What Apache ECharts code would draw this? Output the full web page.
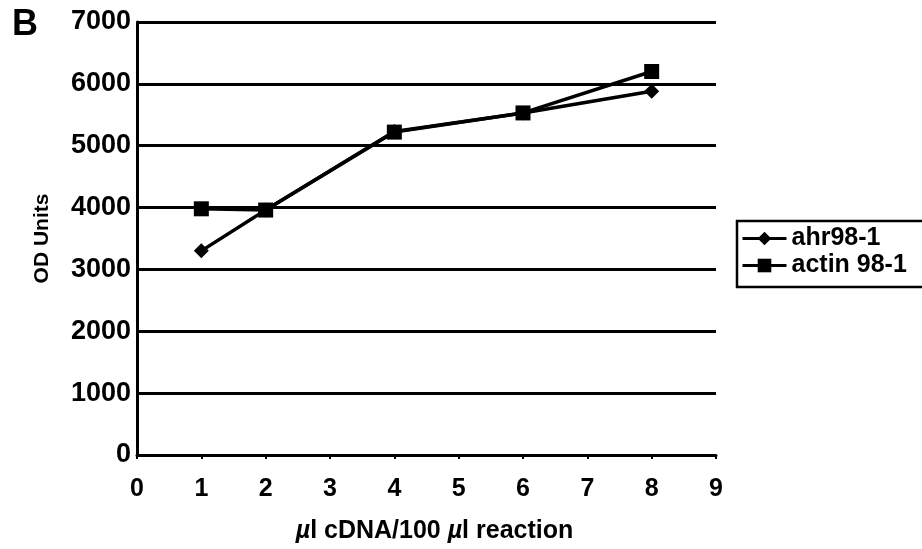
<!DOCTYPE html>
<html><head><meta charset="utf-8">
<script src="https://cdn.jsdelivr.net/npm/echarts@6/dist/echarts.min.js"></script>
<style>html,body{margin:0;padding:0;background:#fff}#c{width:922px;height:549px}</style>
</head><body><div id="c"></div>
<script>
const xValues = [1, 2, 4, 6, 8];
const ahrValues = [3300, 3960, 5230, 5530, 5880];
const actinValues = [3980, 3960, 5220, 5530, 6200];
const seriesNames = ['ahr98-1', 'actin 98-1'];
const yTicks = [0, 1000, 2000, 3000, 4000, 5000, 6000, 7000];
const xTicks = [0, 1, 2, 3, 4, 5, 6, 7, 8, 9];

const font = 'Liberation Sans, Arial, sans-serif';
const chart = echarts.init(document.getElementById('c'));
const pair = (vals) => xValues.map((x, i) => [x, vals[i]]);
chart.setOption({
  animation: false,
  backgroundColor: '#fff',
  graphic: [{type: 'text', left: 12, top: 7, style: {text: 'B', font: 'bold 36px ' + font, fill: '#000'}}],
  grid: {left: 137, top: 22, right: 206, bottom: 92},
  legend: {
    orient: 'vertical', left: 737, top: 221, padding: [5, 60, 9, 4],
    borderColor: '#000', borderWidth: 2.5, borderRadius: 0,
    itemWidth: 44, itemHeight: 17, itemGap: 2,
    lineStyle: {width: 3},
    textStyle: {fontFamily: font, fontSize: 25, fontWeight: 'bold', color: '#000'},
    data: seriesNames
  },
  xAxis: {
    type: 'value', min: 0, max: 9, interval: 1,
    name: '{i|µ}l cDNA/100 {i|µ}l reaction', nameLocation: 'middle', nameGap: 64,
    nameTextStyle: {fontFamily: font, fontSize: 25, fontWeight: 'bold', color: '#000', padding: [0, 0, 0, 16],
      rich: {i: {fontFamily: font, fontSize: 25, fontWeight: 'bold', fontStyle: 'italic', color: '#000'}}},
    axisLine: {lineStyle: {color: '#000', width: 3}},
    axisTick: {show: true, length: 4, lineStyle: {color: '#000', width: 2}},
    axisLabel: {fontFamily: font, fontSize: 25, fontWeight: 'bold', color: '#000', margin: 22,
      formatter: v => xTicks.includes(v) ? String(v) : ''},
    splitLine: {show: false}
  },
  yAxis: {
    type: 'value', min: 0, max: 7000, interval: 1000,
    name: 'OD Units', nameLocation: 'middle', nameGap: 84,
    nameTextStyle: {fontFamily: font, fontSize: 21, fontWeight: 'bold', color: '#000'},
    axisLine: {show: true, lineStyle: {color: '#000', width: 3}},
    axisTick: {show: false},
    axisLabel: {fontFamily: font, fontSize: 27, fontWeight: 'bold', color: '#000', margin: 6,
      formatter: v => yTicks.includes(v) ? String(v) : ''},
    splitLine: {show: true, lineStyle: {color: '#000', width: 3}}
  },
  series: [
    {name: seriesNames[0], type: 'line', data: pair(ahrValues), symbol: 'diamond', symbolSize: 15,
      lineStyle: {color: '#000', width: 3.5}, itemStyle: {color: '#000'}},
    {name: seriesNames[1], type: 'line', data: pair(actinValues), symbol: 'rect', symbolSize: 15,
      lineStyle: {color: '#000', width: 3.5}, itemStyle: {color: '#000'}}
  ]
});
</script></body></html>
